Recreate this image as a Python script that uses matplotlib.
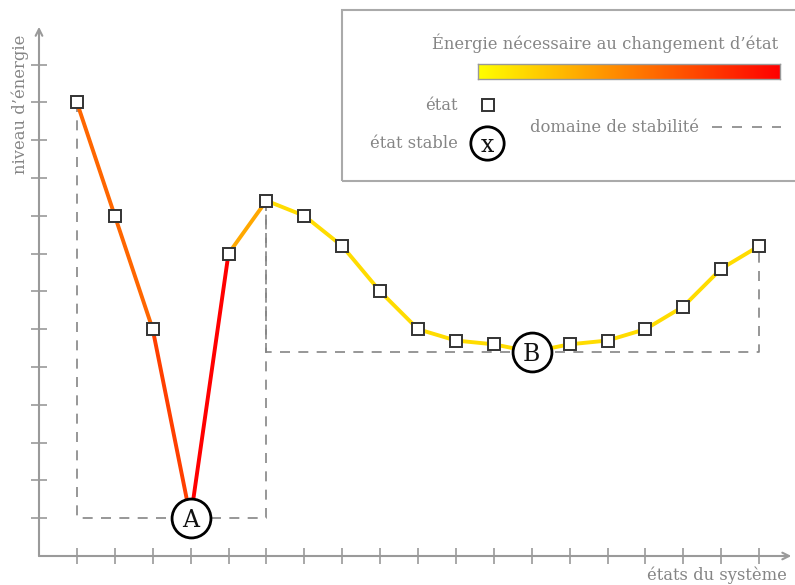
import numpy as np
import matplotlib
matplotlib.use("Agg")
import matplotlib.pyplot as plt
from matplotlib.colors import LinearSegmentedColormap
from matplotlib.patches import Rectangle

# états du système (abscisse) et niveau d'énergie
etats = list(range(1, 20))
niveaux = [12, 9, 6, 1, 8, 9.4, 9, 8.2, 7, 6, 5.7, 5.6, 5.4, 5.6, 5.7, 6, 6.6, 7.6, 8.2]
# énergie nécessaire pour chaque transition (0 = faible, 1 = forte)
energie = [0.6, 0.6, 0.75, 1.0, 0.34, 0.14, 0.14, 0.14, 0.14, 0.14, 0.14, 0.14,
           0.14, 0.14, 0.14, 0.14, 0.14, 0.14]
# états stables
stables = {"A": 4, "B": 13}
# domaines de stabilité : (début, fin, niveau)
domaines = [(1, 6, 1), (6, 19, 5.4)]

W, H = 795, 585
gris = "#858585"
cmap = LinearSegmentedColormap.from_list("energie", ["#ffff00", "#ff8000", "#ff0000"])
police = "DejaVu Serif"
taille = 11.8

fig = plt.figure(figsize=(W / 100, H / 100), dpi=100)
ax = fig.add_axes([0, 0, 1, 1])
# repère : origine à (39, 556) px, une unité ~ 37.9 px en x et 37.8 px en y
ux, uy = 37.9, 37.8
ax.set_xlim(-39 / ux, (W - 39) / ux)
ax.set_ylim(-(H - 556) / uy, 556 / uy)

for s in ax.spines.values():
    s.set_visible(False)
ax.spines["left"].set_position(("data", 0))
ax.spines["bottom"].set_position(("data", 0))
ax.set_xticks(etats)
ax.set_yticks(range(1, 14))
ax.set_xticklabels([])
ax.set_yticklabels([])
ax.tick_params(direction="inout", length=12, width=1.2, color="#9a9a9a",
               top=False, right=False)
# axes avec flèches
ax.annotate("", xy=(0, 14.0), xytext=(0, 0),
            arrowprops=dict(arrowstyle="->", color="#9a9a9a", lw=1.5,
                            shrinkA=0, shrinkB=0, mutation_scale=12))
ax.annotate("", xy=(19.85, 0), xytext=(0, 0),
            arrowprops=dict(arrowstyle="->", color="#9a9a9a", lw=1.5,
                            shrinkA=0, shrinkB=0, mutation_scale=12))

# domaines de stabilité
for debut, fin, niv in domaines:
    xs = [debut, debut, fin, fin]
    ys = [niveaux[debut - 1], niv, niv, niveaux[fin - 1]]
    ax.plot(xs, ys, color=gris, lw=1.2, dashes=(6, 5), zorder=1)

# transitions colorées selon l'énergie
for i in range(len(etats) - 1):
    ax.plot(etats[i:i + 2], niveaux[i:i + 2], color=cmap(energie[i]),
            lw=2.8, solid_capstyle="butt", zorder=2)

# états
idx_stables = set(stables.values())
xs = [e for e in etats if e not in idx_stables]
ys = [niveaux[e - 1] for e in xs]
ax.plot(xs, ys, ls="none", marker="s", ms=8.5, mfc="white", mec="#333333",
        mew=1.4, zorder=4)

# états stables
for nom, e in stables.items():
    ax.plot(e, niveaux[e - 1], marker="o", ms=28, mfc="white", mec="black",
            mew=2, ls="none", zorder=5)
    ax.text(e, niveaux[e - 1], nom, ha="center", va="center_baseline",
            fontsize=17, family=police, color="#111111", zorder=6)

ax.text(20 / W, 1 - 104 / H, "niveau d\u2019énergie", transform=fig.transFigure,
        rotation=90, ha="center", va="center", fontsize=taille, family=police,
        color=gris)
ax.text(787 / W, 1 - 575 / H, "états du système", transform=fig.transFigure,
        ha="right", va="center", fontsize=taille, family=police, color=gris)


# légende
def fx(px):
    return px / W


def fy(py):
    return 1 - py / H


fig.patches.append(Rectangle((fx(342), fy(181)), fx(800) - fx(342), fy(10) - fy(181),
                             transform=fig.transFigure, fill=False,
                             edgecolor="#aaaaaa", lw=1.5, zorder=10))
fig.text(fx(778), fy(43), "Énergie nécessaire au changement d\u2019état",
         ha="right", va="center", fontsize=taille, family=police, color=gris)
cax = fig.add_axes([fx(478), fy(79), fx(780) - fx(478), fy(64) - fy(79)])
cax.imshow(np.linspace(0, 1, 256)[None, :], aspect="auto", cmap=cmap)
cax.set_xticks([])
cax.set_yticks([])
for s in cax.spines.values():
    s.set_color("#999999")
    s.set_linewidth(1)

fig.text(fx(458), fy(106), "état", ha="right", va="center", fontsize=taille,
         family=police, color=gris)
fig.text(fx(458), fy(143), "état stable", ha="right", va="center", fontsize=taille,
         family=police, color=gris)
fig.text(fx(530), fy(128), "domaine de stabilité", ha="left", va="center",
         fontsize=taille, family=police, color=gris)
leg = fig.add_axes([0, 0, 1, 1], facecolor="none")
leg.set_xlim(0, W)
leg.set_ylim(H, 0)
leg.axis("off")
leg.plot(488, 105, marker="s", ms=8.5, mfc="white", mec="#333333", mew=1.4)
leg.plot(487, 143, marker="o", ms=24, mfc="white", mec="black", mew=2)
leg.text(487, 143, "x", ha="center", va="center_baseline", fontsize=17,
         family=police, color="#111111")
leg.plot([712, 781], [127, 127], color=gris, lw=1.2, dashes=(6, 6))

fig.savefig("out.png", dpi=100)
